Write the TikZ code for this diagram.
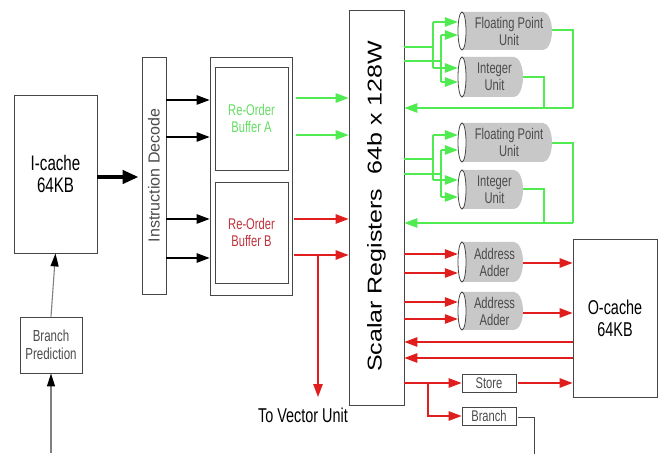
\documentclass[tikz,border=0pt]{standalone}
\usepackage{fontspec}
\setmainfont{Liberation Sans}[FakeStretch=0.72]
\newfontfamily\widefont{Liberation Sans}
\usetikzlibrary{arrows.meta,calc}
\definecolor{gline}{RGB}{80,235,80}
\definecolor{rline}{RGB}{225,30,30}
\definecolor{gtext}{RGB}{100,220,100}
\definecolor{rtext}{RGB}{190,50,60}
\definecolor{cylgray}{RGB}{200,200,200}
\definecolor{boxline}{RGB}{70,70,70}
\definecolor{ctext}{RGB}{75,75,75}
\newcommand\cylunit[6]{%
  \fill[cylgray] ({#2+4},#3) -- ({#4-9},#3) arc[start angle=90,end angle=-90,x radius=9pt,y radius={(#5-#3)/2*1pt}] -- ({#2+4},#5) -- cycle;
  \draw[boxline, fill=white, line width=0.8pt] ({#2+4},{(#3+#5)/2}) ellipse[x radius=4pt, y radius={(#5-#3)/2*1pt}];
  \node[inner sep=0pt, minimum width={(#4-#2)*1pt}, minimum height={(#5-#3)*1pt}] (#1) at ({(#2+#4)/2},{(#3+#5)/2}) {};
  \node[cyltext] (#1t) at ([xshift=4pt]#1.center) {#6};
}
\begin{document}
\begin{tikzpicture}[x=1pt,y=-1pt,
  box/.style={draw=boxline, line width=0.8pt, inner sep=0pt, align=center},
  cyltext/.style={text=ctext, align=center, inner sep=0pt, font=\fontsize{15.5}{17}\selectfont},
  tip/.style={-{Triangle[length=13pt,width=9.5pt]}},
  gwire/.style={draw=gline, line width=1.2pt},
  rwire/.style={draw=rline, line width=1.2pt},
  garr/.style={gwire, tip},
  rarr/.style={rwire, tip},
  karr/.style={draw=black, line width=1.1pt, tip},
  bparr/.style={draw=gray, line width=1.1pt, -{Triangle[length=13pt,width=8pt,color=black]}},
  lbl/.style={font=\fontsize{15.5}{17.5}\selectfont}
]
\useasboundingbox (0,0) rectangle (664,454);

% left column
\node[box, minimum width=83pt, minimum height=158pt, font=\fontsize{21}{22}\selectfont] (icache) at (55.5,174) {I-cache\\64KB};
\node[box, minimum width=62pt, minimum height=56pt, text=ctext, font=\fontsize{16}{18}\selectfont] (bp) at (51,345) {Branch\\Prediction};
\coordinate (bpin) at (51,453);
\draw[bparr] (bp.north) -- (icache.south);
\draw[bparr] (bpin) -- (bp.south);

% decode and re-order buffers
\node[box, minimum width=24pt, minimum height=237pt] (decode) at (154,175.5) {};
\node[rotate=90, inner sep=0pt, text=ctext, font=\widefont\fontsize{16}{16}\selectfont] (decodet) at (decode.center) {Instruction Decode};
\node[box, minimum width=82pt, minimum height=238pt] (rob) at (251,176) {};
\node[box, minimum width=73pt, minimum height=103pt, text=gtext, lbl] (robA) at (251.5,118.5) {Re-Order\\Buffer A};
\node[box, minimum width=73pt, minimum height=101pt, text=rtext, lbl] (robB) at (251.5,232.5) {Re-Order\\Buffer B};

\draw[line width=4pt, -{Triangle[length=16pt,width=13pt]}, shorten >=3pt] (icache.east |- 0,177) -- (decode.west |- 0,177);
\foreach \yy in {100,137,219,258}
  \draw[karr] (decode.east |- 0,\yy) -- (rob.west |- 0,\yy);

% scalar registers
\node[box, minimum width=55pt, minimum height=395pt] (scalar) at (376.5,207.5) {};
\node[rotate=90, inner sep=0pt] (scalart) at ([yshift=1pt]scalar.center) {\scalebox{1}[0.8]{\widefont\fontsize{25}{25}\selectfont Scalar Registers\ \ 64b x 128W}};

\foreach \yy in {98,135}
  \draw[garr, shorten <=4pt] (rob.east |- 0,\yy) -- (scalar.west |- 0,\yy);
\foreach \yy in {219,255}
  \draw[rarr, shorten <=2pt] (rob.east |- 0,\yy) -- (scalar.west |- 0,\yy);
\node[font=\fontsize{20}{22}\selectfont, inner sep=0pt] (tvu) at (303,415) {To Vector Unit};
\coordinate (vsplit) at (318,255);
\coordinate (vend) at (318,397);
\draw[rarr] (vsplit) -- (vend);

% execution units
\cylunit{fpu1}{458}{12}{552}{50}{Floating Point\\Unit}
\cylunit{int1}{458}{57}{523}{97}{Integer\\Unit}
\cylunit{fpu2}{458}{123}{552}{162}{Floating Point\\Unit}
\cylunit{int2}{458}{170}{523}{209}{Integer\\Unit}
\cylunit{aa1}{458}{242}{523}{282}{Address\\Adder}
\cylunit{aa2}{458}{292}{523}{330}{Address\\Adder}

% green group 1
\coordinate (g1a) at (433,47);
\coordinate (g1b) at (441,61);
\coordinate (g1at) at (433,22);
\coordinate (g1ab) at (433,68);
\coordinate (g1bt) at (441,35);
\coordinate (g1bb) at (441,82);
\draw[gwire] (scalar.east |- g1a) -- (g1a);
\draw[gwire] (scalar.east |- g1b) -- (g1b);
\draw[gwire] (g1at) -- (g1ab);
\draw[gwire] (g1bt) -- (g1bb);
\draw[garr] (g1at) -- (fpu1.west |- g1at);
\draw[garr] (g1bt) -- (fpu1.west |- g1bt);
\draw[garr] (g1ab) -- (int1.west |- g1ab);
\draw[garr] (g1bb) -- (int1.west |- g1bb);
\coordinate (f1o) at (573,30);
\coordinate (f1d) at (573,108);
\coordinate (i1o) at (544,77);
\coordinate (i1d) at (544,108);
\draw[gwire] (fpu1.east |- f1o) -- (f1o) -- (f1d);
\draw[gwire] (int1.east |- i1o) -- (i1o) -- (i1d);
\draw[garr] (f1d) -- (scalar.east |- f1d);

% green group 2
\coordinate (g2a) at (433,159);
\coordinate (g2b) at (441,174);
\coordinate (g2at) at (433,135);
\coordinate (g2ab) at (433,180);
\coordinate (g2bt) at (441,150);
\coordinate (g2bb) at (441,197);
\draw[gwire] (scalar.east |- g2a) -- (g2a);
\draw[gwire] (scalar.east |- g2b) -- (g2b);
\draw[gwire] (g2at) -- (g2ab);
\draw[gwire] (g2bt) -- (g2bb);
\draw[garr] (g2at) -- (fpu2.west |- g2at);
\draw[garr] (g2bt) -- (fpu2.west |- g2bt);
\draw[garr] (g2ab) -- (int2.west |- g2ab);
\draw[garr] (g2bb) -- (int2.west |- g2bb);
\coordinate (f2o) at (573,143);
\coordinate (f2d) at (573,223);
\coordinate (i2o) at (544,189);
\coordinate (i2d) at (544,223);
\draw[gwire] (fpu2.east |- f2o) -- (f2o) -- (f2d);
\draw[gwire] (int2.east |- i2o) -- (i2o) -- (i2d);
\draw[garr] (f2d) -- (scalar.east |- f2d);

% O-cache, address adders
\node[box, minimum width=84pt, minimum height=158pt, font=\fontsize{20}{22}\selectfont] (ocache) at (615,318) {O-cache\\64KB};
\foreach \yy in {254,273}
  \draw[rarr] (scalar.east |- 0,\yy) -- (aa1.west |- 0,\yy);
\foreach \yy in {302,319}
  \draw[rarr] (scalar.east |- 0,\yy) -- (aa2.west |- 0,\yy);
\draw[rarr] (aa1.east |- 0,263) -- (ocache.west |- 0,263);
\draw[rarr] (aa2.east |- 0,313) -- (ocache.west |- 0,313);
\foreach \yy in {342,358}
  \draw[rarr] (ocache.west |- 0,\yy) -- (scalar.east |- 0,\yy);

% store and branch
\node[box, minimum width=54pt, minimum height=18pt, text=ctext, lbl] (store) at (489,383) {Store};
\node[box, minimum width=54pt, minimum height=18pt, text=ctext, lbl] (branch) at (489,416) {Branch};
\coordinate (bsplit) at (428,383);
\draw[rarr] (scalar.east |- store) -- (store.west);
\draw[rarr, shorten <=2pt] (store.east) -- (ocache.west |- store);
\draw[rarr] (bsplit) |- (branch.west);
\coordinate (bo) at (534,417);
\coordinate (bend) at (534,454);
\draw[boxline, line width=1pt] ([xshift=2pt]branch.east |- bo) -- (bo) -- (bend);
\end{tikzpicture}
\end{document}
